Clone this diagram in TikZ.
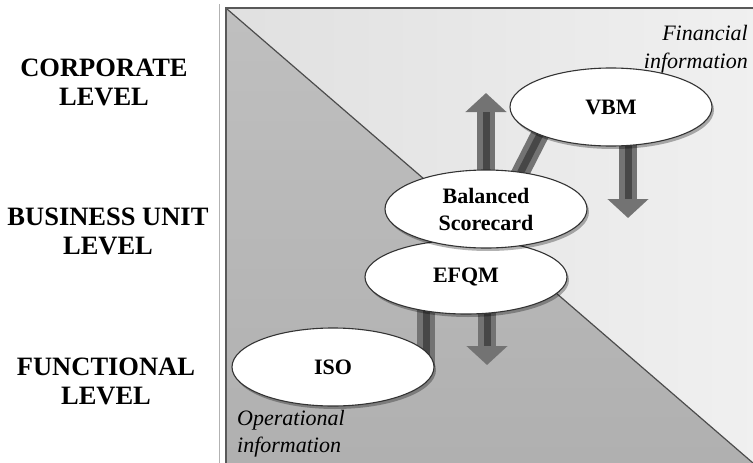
\documentclass[tikz,border=0pt]{standalone}
\usepackage{fontspec}
\setmainfont{Liberation Serif}
\usetikzlibrary{arrows.meta,shapes.geometric,shadows}
\pgfdeclarelayer{back}
\pgfdeclarelayer{mid}
\pgfsetlayers{back,mid,main}
\begin{document}
\begin{tikzpicture}[x=1pt,y=-1pt,
  lvl/.style={font=\bfseries\fontsize{26.5}{29}\selectfont, align=center, inner sep=0pt},
  ell/.style={ellipse, draw=black!80, line width=1.1pt, fill=white,
    minimum width=202pt, minimum height=78pt, inner sep=0pt, align=center,
    font=\bfseries\fontsize{22}{27}\selectfont,
    drop shadow={shadow xshift=2pt, shadow yshift=-3pt, fill=black, opacity=0.3}},
  info/.style={font=\itshape\fontsize{22}{28}\selectfont, inner sep=0pt},
  fatarrow/.style={line width=18pt, draw=black!55, -{Triangle[width=40pt,length=19pt]}},
  fatshaft/.style={line width=18pt, draw=black!55},
  core/.style={line width=7pt, draw=black!72},
  coretip/.style={core, shorten >=19pt}
]
\useasboundingbox (0,0) rectangle (753,463);

% panel background
\begin{pgfonlayer}{back}
  \shade[top color=black!25, bottom color=black!31] (227,9) -- (753,463) -- (227,463) -- cycle;
  \shade[left color=black!12, right color=black!6] (227,9) -- (753,9) -- (753,463) -- cycle;
  \draw[line width=1.2pt, black!70] (227,9) -- (753,463);
  \draw[line width=2pt, black!65] (226,463) -- (226,8) -- (753,8);
  \draw[line width=0.6pt, black!30] (219,4) -- (219,463);
\end{pgfonlayer}

% level labels
\node[lvl] (corp) at (104,82) {CORPORATE\\LEVEL};
\node[lvl] (bu) at (108,231) {BUSINESS UNIT\\LEVEL};
\node[lvl] (func) at (106,381) {FUNCTIONAL\\LEVEL};

% information labels
\node[info, anchor=north east, align=right] (fin) at (748,25) {Financial\\information};
\node[info, anchor=north west, align=left, font=\itshape\fontsize{22}{27}\selectfont] (oper) at (237,410) {Operational\\information};

% ellipses
\node[ell] (iso) at (333,367) {ISO};
\node[ell, minimum height=74pt] (efqm) at (466,277) {EFQM};
\node[ell] (bsc) at (486,209) {Balanced\\Scorecard};
\node[ell] (vbm) at (611,107) {VBM};

% free arrow ends
\coordinate (upTip) at (486,93);
\coordinate (dnTipA) at (628,218);
\coordinate (dnTipB) at (487,365);

% connectors
\begin{pgfonlayer}{mid}
  \draw[fatarrow] (bsc.center) -- (upTip);
  \draw[coretip] (bsc.center) -- (upTip);
  \draw[fatarrow] (dnTipA |- vbm.center) -- (dnTipA);
  \draw[coretip] (dnTipA |- vbm.center) -- (dnTipA);
  \draw[fatshaft] ([xshift=-57pt]vbm.center) -- ([xshift=18pt,yshift=4pt]bsc.center);
  \draw[core] ([xshift=-57pt]vbm.center) -- ([xshift=18pt,yshift=4pt]bsc.center);
  \draw[fatarrow] (dnTipB |- efqm.center) -- (dnTipB);
  \draw[coretip] (dnTipB |- efqm.center) -- (dnTipB);
  \draw[fatshaft] ([xshift=93pt]iso.center) -- ([xshift=-40pt]efqm.center);
  \draw[core] ([xshift=93pt]iso.center) -- ([xshift=-40pt]efqm.center);
\end{pgfonlayer}
\end{tikzpicture}
\end{document}
